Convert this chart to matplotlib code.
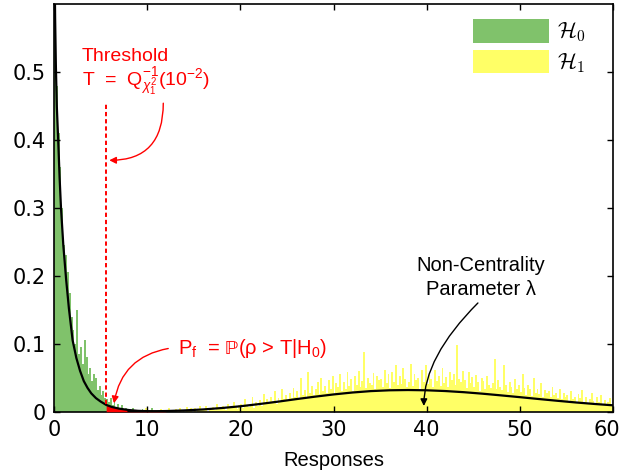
import numpy as np
import matplotlib
matplotlib.use('Agg')
import matplotlib.pyplot as plt
from matplotlib.transforms import ScaledTranslation

plt.rcParams['font.family'] = ['Liberation Sans', 'DejaVu Sans']
plt.rcParams['mathtext.fontset'] = 'custom'
plt.rcParams['mathtext.rm'] = 'Liberation Sans'
plt.rcParams['mathtext.it'] = 'Liberation Sans:italic'
plt.rcParams['mathtext.sf'] = 'Liberation Sans'
plt.rcParams['mathtext.fallback'] = 'stixsans'

# histogram bins (heights in thousandths of density)
bin_width = 0.2
h0_start = 0.0
h1_start = 6.0
h0_counts = [700, 480, 410, 360, 300,
             245, 230, 205, 175, 140,
             120, 100, 150, 85, 95,
             70, 105, 80, 55, 65,
             45, 55, 50, 32, 38,
             25, 30, 20, 18, 14,
             20, 10, 14, 6, 12,
             4, 10, 0, 6, 0,
             3, 0, 5, 0, 0,
             0, 0, 4, 0, 0,
             0, 0, 6, 0, 0,
             0, 0, 0, 0, 0,
             0, 3, 0, 0, 0]
h1_counts = [0, 0, 3, 0, 0,   0, 2, 0, 0, 4,   0, 0, 0, 3, 0,   2, 0, 0, 0, 5,
             0, 3, 0, 0, 0,   0, 0, 4, 0, 2,   0, 5, 0, 3, 0,   4, 0, 6, 0, 3,
             0, 7, 2, 5, 0,   5, 0, 4, 8, 2,   3, 9, 0, 6, 4,   7, 2, 11, 4, 6,
             9, 5, 3, 12, 7,  6, 14, 8, 4, 10,
             12, 5, 18, 9, 7,  10, 22, 6, 15, 9,  17, 8, 26, 12, 19,  13, 21, 16, 30, 11,
             20, 15, 33, 18, 24,  16, 27, 20, 35, 22,  30, 18, 49, 25, 32,  22, 59, 28, 38, 24,
             33, 44, 26, 50, 30,  38, 28, 46, 33, 52,  27, 42, 36, 55, 31,  44, 34, 58, 38, 48,
             31, 52, 40, 60, 36,  45, 88, 35, 50, 42,  40, 57, 33, 52, 46,  48, 36, 62, 42, 55,
             35, 58, 44, 68, 40,  52, 41, 64, 48, 36,  44, 70, 38, 56, 46,  50, 34, 62, 44, 68,
             41, 57, 48, 36, 62,  45, 53, 38, 64, 42,  51, 37, 58, 46, 55,  39, 98, 48, 43, 60,
             47, 35, 58, 42, 51,  36, 54, 43, 31, 49,  45, 33, 52, 40, 35,  42, 78, 34, 47, 37,
             32, 69, 40, 29, 44,  36, 27, 48, 33, 40,  29, 56, 35, 25, 39,  33, 23, 50, 28, 34,
             26, 42, 22, 32, 27,  30, 21, 37, 24, 28,  20, 33, 18, 27, 22,  24, 16, 30, 19, 21,
             15, 26, 20, 32, 14,  22, 13, 19, 27, 16,  12, 21, 15, 25, 10,  17, 9, 14, 20, 12]

# density curves
h0_x = [0.09, 0.12, 0.2, 0.3, 0.45, 0.6, 0.75, 1.0, 1.3, 1.6, 2.0, 2.4, 2.8, 3.2, 3.6,
        4.0, 4.5, 5.0, 5.6, 6.2, 7.0, 8.0, 9.0, 10.0, 11.0, 12.0]
h0_pdf = [0.62, 0.58, 0.51, 0.45, 0.40, 0.345, 0.30, 0.245, 0.195, 0.152, 0.105, 0.079, 0.060,
          0.045, 0.035, 0.027, 0.020, 0.015, 0.010, 0.007, 0.0045, 0.0025, 0.0013, 0.0008,
          0.0004, 0.0002]
h1_x = [8, 10, 12, 14, 16, 18, 20, 22, 24, 26, 28, 30, 32, 34, 36, 38, 40, 42, 44, 46, 48,
        50, 52, 54, 56, 58, 60]
h1_pdf = [0.00016, 0.00042, 0.00096, 0.0019, 0.0033, 0.0054, 0.0080, 0.0112, 0.0147, 0.0185,
          0.0221, 0.0254, 0.0282, 0.0303, 0.0315, 0.0319, 0.0315, 0.0304, 0.0287, 0.0265,
          0.0240, 0.0214, 0.0187, 0.0161, 0.0136, 0.0114, 0.0094]
threshold = 5.6

green = '#80c26b'
yellow = '#ffff66'

fig = plt.figure(figsize=(6.22, 4.75), dpi=100)
ax = fig.add_axes([54 / 622, 1 - 411.7 / 475, (613 - 54) / 622, (411.7 - 4) / 475])

left0 = h0_start + bin_width * np.arange(len(h0_counts))
left1 = h1_start + bin_width * np.arange(len(h1_counts))
ax.bar(left0, np.array(h0_counts) / 1000, width=bin_width, align='edge', color=green,
       linewidth=0, antialiased=False, label=r'$\mathcal{H}_0$', zorder=1)
ax.bar(left1, np.array(h1_counts) / 1000, width=bin_width, align='edge', color=yellow,
       linewidth=0, antialiased=False, label=r'$\mathcal{H}_1$', zorder=1)

h0_x = np.array(h0_x)
h0_pdf = np.array(h0_pdf)
mask = h0_x >= threshold
ax.fill_between(h0_x[mask], h0_pdf[mask], color='red', linewidth=0, zorder=3)
ax.plot(h0_x, h0_pdf, color='black', lw=1.6, zorder=4)
ax.plot(h1_x, h1_pdf, color='black', lw=1.6, zorder=4)

ax.plot([threshold, threshold], [0.012, 0.454], color='red', lw=1.4, ls=(0, (2.2, 1.5)), zorder=5)

# annotations
ax.text(2.97, 0.516, 'Threshold', color='red', fontsize=14, va='baseline')
ax.text(2.97, 0.479, r'T  =  Q$^{-1}_{\chi^{2}_{1}}$(10$^{-2}$)', color='red', fontsize=14,
        va='baseline')
ax.annotate('', xy=(5.93, 0.370), xytext=(11.73, 0.454),
            arrowprops=dict(arrowstyle='-|>', color='red', lw=1, shrinkA=0, shrinkB=0,
                            mutation_scale=10,
                            connectionstyle='angle3,angleA=90,angleB=0'))

ax.text(13.34, 0.085, r'P$_\mathrm{f}$  = $\mathrm{ℙ}$(ρ > T|H$_0$)', color='red', fontsize=14.5,
        va='baseline')
ax.annotate('', xy=(6.44, 0.0124), xytext=(12.26, 0.093),
            arrowprops=dict(arrowstyle='-|>', color='red', lw=1, shrinkA=0, shrinkB=0,
                            mutation_scale=10, connectionstyle='arc3,rad=0.35'))

ax.text(45.8, 0.2074, 'Non-Centrality', fontsize=14.5, ha='center', va='baseline')
ax.text(45.8, 0.1716, 'Parameter λ', fontsize=14.5, ha='center', va='baseline')
ax.annotate('', xy=(39.7, 0.0084), xytext=(45.5, 0.160),
            arrowprops=dict(arrowstyle='-|>', color='black', lw=1, shrinkA=0, shrinkB=0,
                            mutation_scale=10,
                            connectionstyle='angle3,angleA=45,angleB=90'))

ax.set_xlim(0, 60)
ax.set_ylim(0, 0.6)
ax.set_xticks([0, 10, 20, 30, 40, 50, 60])
ax.set_yticks([0, 0.1, 0.2, 0.3, 0.4, 0.5])
ax.set_yticklabels(['0', '0.1', '0.2', '0.3', '0.4', '0.5'])
ax.tick_params(direction='in', top=True, right=True, length=4, width=1, labelsize=15, pad=6,
               labelfontfamily='DejaVu Sans')
for s in ax.spines.values():
    s.set_linewidth(1.2)
ax.set_xlabel('Responses', fontsize=14.5, labelpad=8)

# keep the last x tick label inside the figure
last = ax.get_xticklabels()[-1]
last.set_transform(last.get_transform() + ScaledTranslation(-6 / 100, 0, fig.dpi_scale_trans))

ax.legend(loc='upper left', bbox_to_anchor=(473 / 622, 1 - 19 / 475),
          bbox_transform=fig.transFigure, frameon=False, borderpad=0, borderaxespad=0,
          handlelength=3.4, handleheight=1.25, handletextpad=0.4, labelspacing=0.25,
          prop={'size': 16, 'math_fontfamily': 'cm'})

fig.savefig('out.png', dpi=100)
